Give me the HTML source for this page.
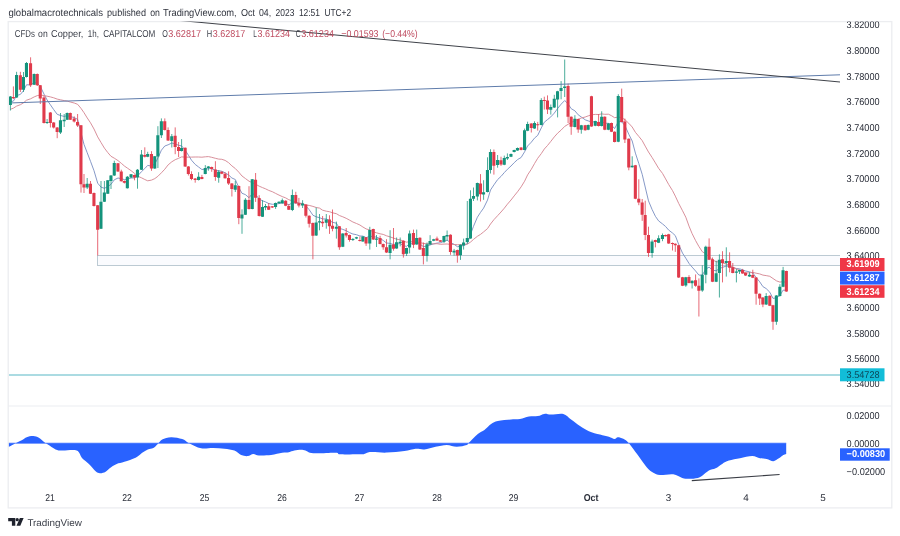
<!DOCTYPE html>
<html lang="en">
<head>
<meta charset="utf-8">
<title>CFDs on Copper, 1h — TradingView</title>
<style>
html,body{margin:0;padding:0;background:#fff;}
body{width:900px;height:536px;overflow:hidden;position:relative;font-family:"Liberation Sans","DejaVu Sans",sans-serif;}
svg{position:absolute;left:0;top:0;display:block;filter:blur(0.35px)}
text{font-family:"Liberation Sans","DejaVu Sans",sans-serif;text-rendering:geometricPrecision;}
.ax{font-size:9.9px;fill:#2a2e39;}
.tm{font-size:9.9px;fill:#2a2e39;text-anchor:middle;}
.bd{font-size:9.9px;fill:#fff;font-weight:bold;}
</style>
</head>
<body>
<svg width="900" height="536" viewBox="0 0 900 536">
  <defs>
    <clipPath id="plot"><rect x="9" y="21.5" width="831" height="384"/></clipPath>
    <clipPath id="axis"><rect x="840" y="21.5" width="51" height="486"/></clipPath>
  </defs>
  <rect x="0" y="0" width="900" height="536" fill="#ffffff"/>
  <!-- header -->
  <text id="hdr" y="15.6" font-size="10.1" fill="#30343e"><tspan x="8.4" textLength="94.6" lengthAdjust="spacingAndGlyphs">globalmacrotechnicals</tspan> <tspan x="107" textLength="39" lengthAdjust="spacingAndGlyphs">published</tspan> <tspan x="150.2" textLength="9.7" lengthAdjust="spacingAndGlyphs">on</tspan> <tspan x="163.0" textLength="73.7" lengthAdjust="spacingAndGlyphs">TradingView.com,</tspan> <tspan x="241.1" textLength="14.0" lengthAdjust="spacingAndGlyphs">Oct</tspan> <tspan x="258.9" textLength="12.2" lengthAdjust="spacingAndGlyphs">04,</tspan> <tspan x="275.6" textLength="18.8" lengthAdjust="spacingAndGlyphs">2023</tspan> <tspan x="298.9" textLength="21.1" lengthAdjust="spacingAndGlyphs">12:51</tspan> <tspan x="324.4" textLength="26.7" lengthAdjust="spacingAndGlyphs">UTC+2</tspan></text>
  <!-- frame -->
  <rect x="8.2" y="21.6" width="883.6" height="486.3" fill="none" stroke="#ecedf0" stroke-width="1.3"/>
  <path d="M8.8 406H891.2" stroke="#ecedf1" stroke-width="1.2"/>

  <!-- support zone -->
  <!-- teal horizontal line -->
  <path d="M9 375H840" stroke="#8fcfd9" stroke-width="1.5"/>

  <g clip-path="url(#plot)">
    <rect x="97.5" y="255.5" width="760" height="10" fill="#fafbfe" stroke="#bccad3" stroke-width="1"/>
    <polyline points="10.4,101.8 13.4,101.1 16.6,95.6 20.4,94.4 23.5,90.7 26.5,84.8 30.6,84.9 34.2,82.6 37.3,83.2 40.3,86.4 44,94.1 47.1,100 50.4,104.8 53.7,109.6 57.2,114.3 60.5,115.5 64.2,116.4 67.2,115.7 70.3,116.5 74.2,117.6 77.6,119.3 81,132.9 84,144.4 87.2,152.7 90.5,161.3 94,170.7 97.7,183.2 101,187.1 104.4,188.3 107.8,186.6 111,184.3 114.3,179.8 118,178 121.3,178.7 124.4,179.6 127.4,179 131.1,178 134.5,177.9 137.5,176.1 141.5,171.6 144.8,168.5 147.7,165.4 151.5,166.1 154.8,164 157.9,158 161.4,150.2 164.8,146 168.1,144.8 171.8,143 175.2,143.9 178.6,145.3 181.6,145.9 185.2,150.2 188.4,155.2 191.5,160.2 195.2,164.4 198.6,167 201.9,169.5 205.3,169.2 208.4,168.6 211.7,168.7 215.4,170.4 218.7,170.7 221.8,171.3 225.1,172.8 228.6,175 231.9,178 235.3,179.5 238.8,187.6 242,193.3 245.4,194.6 249,197.7 252.3,193.8 255.6,194.6 259.2,199.1 262.5,200.8 265.5,201.9 268.7,203.5 272.3,204.3 275.6,204.1 279,203.6 282.3,202.9 285.7,203.5 288.8,204.8 292.4,202.8 295.8,202.9 298.9,203.4 302.6,203.4 305.9,206 309.2,209.7 312.9,215.2 316.2,216.8 319.5,217.7 322.6,218.9 326.3,219 329.5,220.6 332.5,222.3 336.4,223.2 339.4,228.3 342.8,229.4 346.2,230.7 349.5,232.6 352.9,234 356.5,234.7 359.9,236 362.9,236.1 366.1,237.7 369.8,236.1 373.3,236.8 376.5,237.1 380.1,238.6 383.2,240.4 386.5,243 390.1,243.4 393.5,244.5 396.6,244 400.2,243.5 403.4,245.8 406.6,246.3 409.6,243.6 413.5,243.9 416.7,242.6 419.9,244.1 423.4,246.6 427,246.1 430.1,245 433.7,243.8 437,243.1 440.4,242.8 444,241.4 447.1,240.1 450.5,242.6 454.1,244.3 457.4,246.7 460.5,246.3 463.6,245.5 467.3,243.9 470.5,234.4 473.5,226.3 477.4,217.2 480.5,212.4 483.6,208.1 487.5,200.1 490.5,190 493.9,184.9 497.6,179.6 501,176.4 504.3,172.6 507.4,169.3 511,166 514.2,162.7 517.5,159.6 521.1,157.5 524.6,151.8 527.6,146 531.3,142.2 534.5,138.1 537.7,135.4 541.3,127.9 544.3,122.2 547.5,119.6 550.8,116.9 554.3,113.1 557.6,108.5 561.1,104.2 564.7,100.5 568.1,103.9 571.2,108.7 574.9,110.8 578.2,114.8 581.3,117 585.2,119.8 588.2,120.9 591.5,122 595.3,121.8 598.6,122.7 601.7,121.5 604.8,123.2 608.4,123.3 611.5,125 614.6,128.6 618.3,121.7 621.7,121.8 624.9,125.5 628.8,134.3 632.2,141 635.4,153.1 638.8,163.5 642.2,174.3 645.2,187 648.5,200.9 652.1,209.5 655.4,216.3 658.6,220.9 662.5,223.9 665.6,226.5 668.7,230.1 672.5,233 675.3,235.6 678.7,244.4 682.5,253.1 685.8,258.2 689,263.4 692.1,267.1 695.6,271 698.9,275.1 702.3,275.1 705.8,269.1 709.1,267.1 712.5,270.2 716.2,270.8 719.4,268.5 722.5,267.4 726.3,266 729.6,266.4 732.8,267.7 736.4,268.5 739.5,268.8 742.6,269.8 745.6,271 749.5,271.8 752.8,273 756.1,277.4 759.7,281.8 762.9,286.6 766.2,288.6 769.8,292.2 773,298.4 776.4,297.8 779.9,295.5 783.1,290.1 786.4,290.4" fill="none" stroke="#7f93c4" stroke-width="1" opacity="0.95"/><polyline points="10.4,109.3 13.4,108.2 16.6,106.1 20.4,104.7 23.5,102.8 26.5,100.2 30.6,98.8 34.2,96.9 37.3,95.6 40.3,95 44,95.6 47.1,96.2 50.4,96.9 53.7,97.8 57.2,99.1 60.5,99.8 64.2,100.6 67.2,101.1 70.3,102 74.2,103 77.6,104.3 81,108.4 84,112.7 87.2,117.9 90.5,122.8 94,129 97.7,136.9 101,142.5 104.4,148.1 107.8,152.6 111,156.3 114.3,158.2 118,160.6 121.3,163.3 124.4,166 127.4,168.1 131.1,170.7 134.5,173.4 137.5,176.1 141.5,177.8 144.8,179.5 147.7,180.8 151.5,180.1 154.8,178.6 157.9,176.3 161.4,172.8 164.8,169.2 168.1,164.9 171.8,161.8 175.2,159.7 178.6,158.3 181.6,156.9 185.2,157.1 188.4,157.2 191.5,157.1 195.2,157 198.6,157 201.9,157.2 205.3,156.8 208.4,156.6 211.7,157.3 215.4,158.3 218.7,159.1 221.8,159.3 225.1,160.4 228.6,162.7 231.9,165.9 235.3,168.5 238.8,172.2 242,176 245.4,178.5 249,181.2 252.3,182.7 255.6,184.2 259.2,186.2 262.5,187.6 265.5,188.8 268.7,190.4 272.3,191.7 275.6,193.4 279,195.1 282.3,196.6 285.7,197.9 288.8,199.7 292.4,200.8 295.8,201.9 298.9,203 302.6,203.7 305.9,205.1 309.2,205.4 312.9,206.4 316.2,207.5 319.5,208.1 322.6,210.2 326.3,211.2 329.5,211.7 332.5,212.8 336.4,213.7 339.4,215.5 342.8,216.8 346.2,218.3 349.5,220.1 352.9,222 356.5,223.5 359.9,225 362.9,227 366.1,228.9 369.8,230 373.3,231.8 376.5,232.8 380.1,233.8 383.2,234.4 386.5,235.8 390.1,236.9 393.5,238.1 396.6,239.2 400.2,239.9 403.4,241.1 406.6,242.2 409.6,241.5 413.5,242 416.7,242.2 419.9,242.6 423.4,243.4 427,243.8 430.1,243.8 433.7,243.9 437,243.7 440.4,244.3 444,244.1 447.1,244 450.5,244.4 454.1,244.5 457.4,244.7 460.5,244.7 463.6,244.4 467.3,244.2 470.5,242.1 473.5,239.4 477.4,236.3 480.5,234.4 483.6,231.9 487.5,228.6 490.5,224 493.9,219.7 497.6,215.7 501,212 504.3,208.2 507.4,204.2 511,200 514.2,195.9 517.5,191.8 521.1,186.9 524.6,181.2 527.6,174.9 531.3,169.3 534.5,163.6 537.7,158.3 541.3,153.6 544.3,149 547.5,145.5 550.8,141.4 554.3,136.9 557.6,133.2 561.1,130.1 564.7,126.4 568.1,124.3 571.2,122.5 574.9,120.6 578.2,119.3 581.3,118 585.2,117 588.2,115.9 591.5,114.8 595.3,114.4 598.6,114.5 601.7,113.9 604.8,114.3 608.4,114.2 611.5,115.7 614.6,117.7 618.3,117 621.7,117.7 624.9,119.6 628.8,123.3 632.2,127 635.4,132.3 638.8,136.4 642.2,140.6 645.2,146.1 648.5,152 652.1,157.5 655.4,162.9 658.6,168.3 662.5,173.4 665.6,178.9 668.7,184.5 672.5,190.6 675.3,196.1 678.7,203.4 682.5,210.7 685.8,217.2 689,226.1 692.1,233.6 695.6,240.6 698.9,246.5 702.3,251.7 705.8,253.9 709.1,256.7 712.5,259.9 716.2,261.7 719.4,262 722.5,263 726.3,263.9 729.6,265.3 732.8,267.2 736.4,268.8 739.5,270.1 742.6,271.5 745.6,272.9 749.5,272.8 752.8,272.4 756.1,273.2 759.7,273.9 762.9,275.1 766.2,275.6 769.8,276.3 773,278.5 776.4,280.8 779.9,282.1 783.1,281.6 786.4,282.5" fill="none" stroke="#d68a96" stroke-width="1" opacity="0.95"/>
    <path d="M10.4 96V110.5M16.6 71.8V98M23.5 72V92M26.5 62V77.5M34.2 73.5V85M47.1 119V124M60.5 113V134M64.2 114V127M67.2 112.5V120M87.2 178V189M101 181V229M104.4 181V202M107.8 180V194M111 175V189M114.3 160.7V176M127.4 176V188.5M131.1 174V178M137.5 169V188.7M141.5 150V170M147.7 151.8V157.2M154.8 156V169M157.9 126.2V168M161.4 118.4V138M171.8 134V147.5M181.6 139.1V151.5M198.6 172.2V180.5M205.3 165.1V174.3M208.4 166V170.7M218.7 170.2V182.7M235.3 180.8V192M242 209.3V233.8M245.4 198.1V215M252.3 179V209.3M262.5 200.2V217M265.5 204V210.2M275.6 202.5V208.9M279 201.3V203.7M282.3 198.5V203.7M292.4 189.5V211.1M302.6 200.2V208M316.2 207.6V236M319.5 214V230.3M326.3 214V228.7M336.4 221.6V238.6M342.8 233.2V247.1M352.9 238V241M356.5 236.8V239.1M362.9 236.2V241.8M369.8 226.8V249.6M376.5 235V247M390.1 230.2V259.3M396.6 237.5V248.8M400.2 237.5V246.4M406.6 247.7V256M409.6 230.5V253.4M416.7 229.6V244.8M427 242.5V261.6M430.1 235.2V244.8M433.7 238.8V241.2M444 235.7V243M447.1 230.5V240.8M454.1 248.9V255.6M460.5 244.4V259.9M463.6 238.6V249.6M467.3 201V243.6M470.5 190.3V238.8M473.5 187.5V201M477.4 182.6V200.4M483.6 180.2V199.8M487.5 157.3V192.4M490.5 149.3V173.5M497.6 155V167.7M504.3 155.6V165.2M507.4 153.4V160M511 153.5V157.1M514.2 149.7V152.4M517.5 147.5V150.8M524.6 128.6V150.3M527.6 121.7V131.2M534.5 121.3V128.8M541.3 98.2V125.4M550.8 104.5V114.6M554.3 94.8V108M557.6 90.8V117.4M561.1 81.1V99.3M564.7 59.5V97M574.9 115.2V127.4M581.3 124.9V133.7M588.2 124.5V130.2M595.3 120.7V126.2M601.7 111.3V126.5M608.4 123V130.2M618.3 94.2V142.2M632.2 156.3V167.6M652.1 239.6V257.7M658.6 235.3V243.1M662.5 233.5V241.2M685.8 276.9V286.8M692.1 280.4V288.5M702.3 265.3V291.8M705.8 245.7V283.3M716.2 260.8V282.1M719.4 254.3V297.5M726.3 247.3V276.6M736.4 268.9V282.4M739.5 269.6V274M749.5 272.2V276.8M766.2 293.1V305M776.4 295.1V324.8M779.9 284.2V296.5M783.1 266.9V287.2" stroke="#14937c" stroke-width="0.9" fill="none" opacity="0.85"/><path d="M13.4 86.4V99M20.4 71.8V92M30.6 57.3V87M37.3 73.5V86M40.3 85V104M44 96V123.5M50.4 112V127.5M53.7 122V128.5M57.2 127V138.2M70.3 112.5V120M74.2 116.3V122.5M77.6 114V127M81 125V192.6M84 174V193M90.5 181V194M94 192.5V206.5M97.7 205V255.5M118 163V172M121.3 169.7V181.5M124.4 180.5V183.5M134.5 174.5V180.3M144.8 147.3V157.5M151.5 151.2V170.8M164.8 118.4V130.5M168.1 127.4V141M175.2 127.4V154.2M178.6 142V157M185.2 147.5V167M188.4 166V175.5M191.5 171.3V180.2M195.2 178V182.7M201.9 174.9V179.3M211.7 166.6V171.8M215.4 161.2V180.8M221.8 171.3V174.2M225.1 172.4V178.6M228.6 171.3V185M231.9 183V196.5M238.8 185.5V224.2M249 186.2V209.5M255.6 173V201.9M259.2 195.2V216.5M268.7 203V210M272.3 206V208M285.7 200.2V206.2M288.8 204V210M295.8 191.8V203.8M298.9 197.9V207.4M305.9 204.2V217.5M309.2 215.3V227.5M312.9 222.5V259.3M322.6 216V226.9M329.5 215.3V233.9M332.5 209.5V231.3M339.4 226V249.8M346.2 228V237.5M349.5 234.6V241.7M359.9 236.6V241.5M366.1 237V245.9M373.3 228.7V240M380.1 235.8V244.4M383.2 243.6V249.8M386.5 239.2V253M393.5 228V250.7M403.4 240.4V257.6M413.5 229.6V248.1M419.9 237.3V250M423.4 242.5V264.4M437 236.6V241M440.4 240V242.1M450.5 234.3V254.8M457.4 249.6V262.7M480.5 174.1V201.5M493.9 149.5V174.6M501 156.7V165.9M521.1 147.2V150.3M531.3 123.2V132.5M537.7 121.9V130.6M544.3 96.7V109.6M547.5 95.4V114M568.1 83.6V123M571.2 116.4V134.8M578.2 118.7V132.8M585.2 124.9V130.7M591.5 95.8V126.8M598.6 114.1V126.5M604.8 116.3V130.2M611.5 122.6V132.1M614.6 131.3V142.4M621.7 88.6V122.3M624.9 118.6V143M628.8 138.4V170.3M635.4 164.9V199.2M638.8 179.3V205.2M642.2 199V220.9M645.2 200.7V240.1M648.5 226.7V256.9M655.4 239.7V247.4M665.6 234.5V236.6M668.7 233.8V243.9M672.5 242.5V250.5M675.3 243.4V251.9M678.7 244.8V278M682.5 276.9V286.1M689 275.2V283.4M695.6 274.4V286.8M698.9 278.4V316.5M709.1 238.4V260.1M712.5 257.5V282.1M722.5 251.2V282.4M729.6 252.3V272.3M732.8 263V273.3M742.6 268.9V273.8M745.6 272.4V276M752.8 269.7V278.1M756.1 277V304.7M759.7 293.4V305M762.9 297.1V307.2M769.8 295.3V306.1M773 304.8V329.8M786.4 270.7V291.9" stroke="#e03a4b" stroke-width="0.9" fill="none" opacity="0.85"/><path d="M8.8 96.5h3.1V104.9h-3.1zM15 74.9h3.1V97.6h-3.1zM21.9 76.9h3.1V89.8h-3.1zM24.9 62.9h3.1V76.9h-3.1zM32.6 74h3.1V84.7h-3.1zM45.5 121.9h3.1V123h-3.1zM58.9 120.2h3.1V132.5h-3.1zM62.6 119.7h3.1V121.3h-3.1zM65.6 113h3.1V119.7h-3.1zM85.6 183.7h3.1V187.6h-3.1zM99.4 201.8h3.1V228.7h-3.1zM102.8 192.6h3.1V201.8h-3.1zM106.2 180.3h3.1V193.7h-3.1zM109.4 175.6h3.1V181h-3.1zM112.7 163h3.1V175.6h-3.1zM125.8 176.7h3.1V188.2h-3.1zM129.5 174.2h3.1V177.5h-3.1zM135.9 169.7h3.1V177.5h-3.1zM139.9 154.6h3.1V169.7h-3.1zM146.1 154h3.1V156.8h-3.1zM153.2 156.2h3.1V168.6h-3.1zM156.3 135.2h3.1V156.5h-3.1zM159.8 121.2h3.1V135.2h-3.1zM170.2 136.3h3.1V141.1h-3.1zM180 148h3.1V150.9h-3.1zM197 176.7h3.1V180h-3.1zM203.7 167.9h3.1V173.9h-3.1zM206.8 166.6h3.1V168.1h-3.1zM217.1 171.8h3.1V177.8h-3.1zM233.7 185.2h3.1V189.8h-3.1zM240.4 214.5h3.1V218.6h-3.1zM243.8 199.7h3.1V214.7h-3.1zM250.7 179.3h3.1V208.9h-3.1zM260.9 206.9h3.1V216.7h-3.1zM263.9 206h3.1V207.4h-3.1zM274 203h3.1V206.9h-3.1zM277.4 201.8h3.1V203.2h-3.1zM280.7 200.2h3.1V203.2h-3.1zM290.8 195.1h3.1V210h-3.1zM301 203.5h3.1V205.5h-3.1zM314.6 222.6h3.1V235.5h-3.1zM317.9 221.2h3.1V222.5h-3.1zM324.7 219.6h3.1V222.7h-3.1zM334.8 226.8h3.1V228.7h-3.1zM341.2 233.6h3.1V246.7h-3.1zM351.3 238.9h3.1V239.9h-3.1zM354.9 237.3h3.1V238.6h-3.1zM361.3 236.6h3.1V241.4h-3.1zM368.2 229.9h3.1V243.6h-3.1zM374.9 238.4h3.1V239.7h-3.1zM388.5 244.8h3.1V252.9h-3.1zM395 242.2h3.1V248.4h-3.1zM398.6 241.7h3.1V243h-3.1zM405 248.1h3.1V253.7h-3.1zM408 233.6h3.1V247.6h-3.1zM415.1 238h3.1V244.4h-3.1zM425.4 244.2h3.1V256h-3.1zM428.5 241.1h3.1V244.4h-3.1zM432.1 239.2h3.1V240.8h-3.1zM442.4 236.1h3.1V241.7h-3.1zM445.5 235h3.1V236.6h-3.1zM452.5 250.7h3.1V252.6h-3.1zM458.9 244.8h3.1V255.2h-3.1zM462 242.5h3.1V245.5h-3.1zM465.7 238h3.1V242h-3.1zM468.9 198.7h3.1V238.4h-3.1zM471.9 196.1h3.1V198.7h-3.1zM475.8 183h3.1V196.5h-3.1zM482 192.3h3.1V194.6h-3.1zM485.9 169.9h3.1V192h-3.1zM488.9 152h3.1V169.9h-3.1zM496 159.9h3.1V165.1h-3.1zM502.7 158.1h3.1V164.8h-3.1zM505.8 156.9h3.1V158.4h-3.1zM509.4 153.9h3.1V156.7h-3.1zM512.6 150.1h3.1V152h-3.1zM515.9 147.9h3.1V150.4h-3.1zM523 130.3h3.1V149.9h-3.1zM526 124.1h3.1V130.8h-3.1zM532.9 123h3.1V128.4h-3.1zM539.7 99.9h3.1V125h-3.1zM549.2 107.1h3.1V109.8h-3.1zM552.7 98.8h3.1V107.5h-3.1zM556 91.2h3.1V99.4h-3.1zM559.5 88.1h3.1V90.9h-3.1zM563.1 86.4h3.1V88.1h-3.1zM573.3 118.7h3.1V127h-3.1zM579.7 125.3h3.1V129.8h-3.1zM586.6 124.9h3.1V129.8h-3.1zM593.7 121.1h3.1V125.8h-3.1zM600.1 116.7h3.1V126.1h-3.1zM606.8 123.4h3.1V129.8h-3.1zM616.7 96h3.1V141.8h-3.1zM630.6 165.8h3.1V167.2h-3.1zM650.5 241.6h3.1V253h-3.1zM657 238.2h3.1V242.7h-3.1zM660.9 234.9h3.1V239h-3.1zM684.2 277.3h3.1V285.5h-3.1zM690.5 280.8h3.1V283.2h-3.1zM700.7 274.7h3.1V290.4h-3.1zM704.2 246.8h3.1V274.7h-3.1zM714.6 273.3h3.1V281.7h-3.1zM717.8 259.8h3.1V272.9h-3.1zM724.7 261h3.1V262.9h-3.1zM734.8 271.5h3.1V272.8h-3.1zM737.9 270h3.1V271.4h-3.1zM747.9 274.7h3.1V276.4h-3.1zM764.6 296.1h3.1V304.6h-3.1zM774.8 295.5h3.1V321.7h-3.1zM778.3 286.7h3.1V296.1h-3.1zM781.5 270.2h3.1V286.8h-3.1z" fill="#14937c"/><path d="M11.8 97h3.1V98.2h-3.1zM18.8 75.2h3.1V89.8h-3.1zM29 63.2h3.1V85.3h-3.1zM35.7 74h3.1V85.3h-3.1zM38.7 85.3h3.1V98.5h-3.1zM42.4 97.5h3.1V123h-3.1zM48.8 112.4h3.1V123h-3.1zM52.1 122.5h3.1V127.5h-3.1zM55.6 127.5h3.1V132h-3.1zM68.7 113h3.1V119.7h-3.1zM72.6 118.5h3.1V121.4h-3.1zM76 122h3.1V125.6h-3.1zM79.4 125.3h3.1V184.2h-3.1zM82.4 184.2h3.1V187.6h-3.1zM88.9 183.7h3.1V193.7h-3.1zM92.4 193h3.1V206h-3.1zM96.1 205.2h3.1V229.8h-3.1zM116.4 163.3h3.1V171.4h-3.1zM119.7 171.4h3.1V181.2h-3.1zM122.8 180.9h3.1V182.8h-3.1zM132.9 175h3.1V177.5h-3.1zM143.2 155h3.1V156.8h-3.1zM149.9 154h3.1V168.6h-3.1zM163.2 121.2h3.1V130h-3.1zM166.5 130h3.1V140.5h-3.1zM173.6 135.8h3.1V147h-3.1zM177 147h3.1V150.9h-3.1zM183.6 147.8h3.1V166.5h-3.1zM186.8 166.5h3.1V174h-3.1zM189.9 174h3.1V178.9h-3.1zM193.6 178.6h3.1V180h-3.1zM200.3 176.9h3.1V178.9h-3.1zM210.1 167.1h3.1V169h-3.1zM213.8 169.6h3.1V176.9h-3.1zM220.2 171.8h3.1V173.7h-3.1zM223.5 173.7h3.1V178.2h-3.1zM227 178h3.1V183.4h-3.1zM230.3 183.4h3.1V189h-3.1zM237.2 186h3.1V218.1h-3.1zM247.4 200h3.1V209h-3.1zM254 179.7h3.1V197.8h-3.1zM257.6 197.9h3.1V216h-3.1zM267.1 206.3h3.1V209.7h-3.1zM270.7 206.3h3.1V207.4h-3.1zM284.1 200.7h3.1V205.8h-3.1zM287.2 206h3.1V209.7h-3.1zM294.2 195.1h3.1V203.3h-3.1zM297.3 203.3h3.1V205.5h-3.1zM304.3 204.6h3.1V215.7h-3.1zM307.6 215.7h3.1V223.7h-3.1zM311.3 223h3.1V235.8h-3.1zM321 221.7h3.1V223.3h-3.1zM327.9 219.6h3.1V226.3h-3.1zM330.9 225.7h3.1V228.7h-3.1zM337.8 226.3h3.1V247.3h-3.1zM344.6 233h3.1V235.5h-3.1zM347.9 235h3.1V239.9h-3.1zM358.3 239.9h3.1V241.1h-3.1zM364.5 237.3h3.1V243.6h-3.1zM371.7 229.1h3.1V239.5h-3.1zM378.5 238h3.1V244h-3.1zM381.6 244h3.1V247.3h-3.1zM384.9 247.3h3.1V252.6h-3.1zM391.9 244.4h3.1V248.7h-3.1zM401.8 240.8h3.1V254.3h-3.1zM411.9 233h3.1V244.8h-3.1zM418.3 237.7h3.1V249.6h-3.1zM421.8 248.1h3.1V256h-3.1zM435.4 238.4h3.1V240.6h-3.1zM438.8 240.3h3.1V241.7h-3.1zM448.9 234.7h3.1V252h-3.1zM455.8 250h3.1V255.6h-3.1zM478.9 183.6h3.1V194.2h-3.1zM492.3 152h3.1V165.7h-3.1zM499.4 160.3h3.1V164.6h-3.1zM519.5 147.6h3.1V149.9h-3.1zM529.7 123.6h3.1V128h-3.1zM536.1 124.2h3.1V125.2h-3.1zM542.7 99.9h3.1V100.9h-3.1zM545.9 100.6h3.1V109.6h-3.1zM566.5 86h3.1V116.8h-3.1zM569.6 116.8h3.1V126.8h-3.1zM576.6 119.1h3.1V129.5h-3.1zM583.6 125.3h3.1V130.3h-3.1zM589.9 96.2h3.1V126.4h-3.1zM597 121.9h3.1V126.1h-3.1zM603.2 116.7h3.1V129.8h-3.1zM609.9 123h3.1V131.7h-3.1zM613 131.7h3.1V142h-3.1zM620.1 96.9h3.1V121.9h-3.1zM623.3 121.6h3.1V139.5h-3.1zM627.2 138.8h3.1V167.5h-3.1zM633.8 165.3h3.1V198.8h-3.1zM637.2 198.8h3.1V202.4h-3.1zM640.6 202.4h3.1V214.7h-3.1zM643.6 214.9h3.1V234.9h-3.1zM646.9 235h3.1V253h-3.1zM653.8 240.1h3.1V242h-3.1zM664 234.9h3.1V236.2h-3.1zM667.1 234.2h3.1V243.5h-3.1zM670.9 242.9h3.1V244h-3.1zM673.7 243.8h3.1V245.2h-3.1zM677.1 245.2h3.1V277.6h-3.1zM680.9 277.3h3.1V285.7h-3.1zM687.4 277h3.1V283h-3.1zM694 280.3h3.1V285.7h-3.1zM697.3 285.7h3.1V290.7h-3.1zM707.5 246.8h3.1V259.7h-3.1zM710.9 259.2h3.1V281.7h-3.1zM720.9 259.2h3.1V263h-3.1zM728 261h3.1V267.7h-3.1zM731.2 267.2h3.1V272.9h-3.1zM741 270h3.1V273.4h-3.1zM744 272.8h3.1V275.6h-3.1zM751.2 275.1h3.1V277.7h-3.1zM754.5 277.4h3.1V293.8h-3.1zM758.1 293.8h3.1V298.4h-3.1zM761.3 297.5h3.1V304.6h-3.1zM768.2 295.7h3.1V305.7h-3.1zM771.4 305.2h3.1V321.7h-3.1zM784.8 271.1h3.1V291.5h-3.1z" fill="#e03a4b"/>
    <!-- trend lines -->
    <path d="M12 102.9L840 74.8" stroke="#5f7cab" stroke-width="1" fill="none"/>
    <path d="M170 19.57L840 82" stroke="#3f4249" stroke-width="1" fill="none"/>
  </g>

  <!-- legend -->
    <text id="lg" y="37.2" font-size="10" fill="#3a3e48"><tspan x="14.8" textLength="20.0" lengthAdjust="spacingAndGlyphs">CFDs</tspan> <tspan x="38.1" textLength="9.6" lengthAdjust="spacingAndGlyphs">on</tspan> <tspan x="51.1" textLength="32.2" lengthAdjust="spacingAndGlyphs">Copper,</tspan> <tspan x="87.8" textLength="11.1" lengthAdjust="spacingAndGlyphs">1h,</tspan> <tspan x="103.2" textLength="52.2" lengthAdjust="spacingAndGlyphs">CAPITALCOM</tspan> <tspan x="162.2" textLength="5.6" lengthAdjust="spacingAndGlyphs">O</tspan><tspan x="168.2" textLength="32.9" lengthAdjust="spacingAndGlyphs" fill="#bf4c60">3.62817</tspan> <tspan x="206.8" textLength="5.4" lengthAdjust="spacingAndGlyphs">H</tspan><tspan x="212.7" textLength="32.5" lengthAdjust="spacingAndGlyphs" fill="#bf4c60">3.62817</tspan> <tspan x="253.3" textLength="3.6" lengthAdjust="spacingAndGlyphs">L</tspan><tspan x="257.5" textLength="32.5" lengthAdjust="spacingAndGlyphs" fill="#bf4c60">3.61234</tspan> <tspan x="295.8" textLength="4.9" lengthAdjust="spacingAndGlyphs">C</tspan><tspan x="301.2" textLength="32.8" lengthAdjust="spacingAndGlyphs" fill="#bf4c60">3.61234</tspan> <tspan x="341.3" textLength="37.2" lengthAdjust="spacingAndGlyphs" fill="#bf4c60">−0.01593</tspan> <tspan x="382.2" textLength="35.4" lengthAdjust="spacingAndGlyphs" fill="#bf4c60">(−0.44%)</tspan></text>

  <!-- oscillator -->
  <path d="M8.9 443.2L8.9 446.8C10 446.2 13.4 444.3 15.6 443.2C17.8 442.1 20.3 441.1 22.2 440.1C24.1 439.1 24.9 437.9 26.7 437.2C28.5 436.5 31.3 436 33.3 436.1C35.3 436.2 37 436.7 38.9 437.7C40.8 438.7 42.9 441.1 44.4 442.3C45.9 443.5 45.9 443.4 47.8 444.6C49.7 445.8 53.2 448.4 55.6 449.4C58 450.4 58.7 450.4 62.2 450.6C65.7 450.8 73.4 449.3 76.7 450.6C80 451.9 80.2 456.1 82.2 458.3C84.2 460.5 86.7 461.8 88.9 463.9C91.1 466 93.8 469.6 95.6 471.2C97.4 472.8 98.3 473.1 100 473.2C101.7 473.3 103.8 472.7 105.6 471.7C107.4 470.7 109.2 468.5 111.1 467.2C112.9 465.9 114.5 464.8 116.7 463.9C118.9 463 121.2 462.7 124.4 461.7C127.6 460.7 132.6 459.2 135.6 457.7C138.6 456.2 140.2 454.2 142.2 452.8C144.2 451.4 146 450.2 147.8 449.4C149.7 448.6 151.6 448.8 153.3 447.9C155 447 156.3 445.3 157.8 443.9C159.3 442.5 160 440.5 162.2 439.4C164.4 438.3 167.8 437.3 171.1 437.2C174.4 437.1 179.2 438 182.2 439C185.2 440 185.8 441.6 188.9 443.2C192.1 444.8 197 447.5 201.1 448.3C205.2 449.1 209.4 447.8 213.3 447.9C217.2 448 220.9 448.4 224.4 448.8C227.9 449.2 231.6 449.6 234.4 450.6C237.2 451.6 238.9 454.1 241.1 455C243.3 455.9 245.8 456.3 247.8 456.1C249.8 455.9 251.5 454 253.3 453.9C255.2 453.8 255.9 455.2 258.9 455.4C261.9 455.6 267.2 455.4 271.1 455C275 454.6 279.2 453.2 282.2 452.8C285.2 452.4 286.9 452.7 288.9 452.3C290.9 451.9 292 451 294.4 450.6C296.8 450.2 300.1 449.5 303.3 449.9C306.5 450.3 307.9 452.7 313.3 453.2C318.7 453.7 331.2 452.6 335.6 452.8C340.1 453 336.3 454.1 340 454.3C343.7 454.6 353.7 454.4 357.8 454.3C361.9 454.2 362.2 454.3 364.4 453.9C366.6 453.5 367.4 452.3 371.1 452.1C374.8 451.9 381.1 452.8 386.7 452.6C392.2 452.4 399.6 451.6 404.4 451C409.2 450.4 412.3 449.1 415.6 448.8C418.9 448.5 421.1 449.7 424.4 449.4C427.7 449.1 431.9 447.5 435.6 446.8C439.3 446.1 443.2 445 446.7 445C450.2 445 453.4 446.8 456.7 446.8C460 446.8 464.7 445.7 466.7 445C468.7 444.3 467 444.7 468.9 442.8C470.8 440.9 475.2 436 477.8 433.9C480.4 431.8 482.2 431.6 484.4 429.9C486.6 428.2 488.9 425.4 491.1 423.9C493.3 422.4 494.5 421.8 497.8 421C501.1 420.2 507.4 419.7 511.1 419.4C514.8 419.1 517 419.5 520 419C523 418.5 525.9 417.1 528.9 416.6C531.9 416.1 535.2 416.6 537.8 416.1C540.4 415.7 542.2 414.1 544.4 413.9C546.6 413.6 548 414.6 551.1 414.6C554.2 414.6 560 413.1 563.3 413.9C566.6 414.7 568.3 417.4 571.1 419.4C573.9 421.4 577 424.1 580 426.1C583 428.1 585.6 429.8 588.9 431.2C592.2 432.6 596.7 433.7 600 434.6C603.3 435.5 606.5 436.1 608.9 436.8C611.3 437.5 612.9 438.9 614.4 439C615.9 439.1 616.3 437.2 617.8 437.2C619.3 437.2 621.4 437.8 623.3 438.8C625.1 439.8 626.5 440.5 628.9 443.2C631.3 445.9 634.8 451 637.8 455C640.8 459 644.1 464.2 646.7 467.2C649.3 470.2 651.1 471.5 653.3 472.8C655.5 474.1 656.7 474.8 660 475C663.3 475.2 669.6 473.8 673.3 474.3C677 474.8 679.6 477.1 682.2 477.9C684.8 478.6 686.3 478.8 688.9 478.8C691.5 478.8 695.6 478.4 697.8 477.9C700 477.4 700.4 476.9 702.2 475.7C704.1 474.5 706.7 471.8 708.9 470.6C711.1 469.4 713.4 469.4 715.6 468.3C717.8 467.2 720 465.2 722.2 463.9C724.4 462.6 725.9 461.5 728.9 460.6C731.9 459.7 736.1 459.1 740 458.3C743.9 457.6 748.9 456.1 752.2 456.1C755.5 456.1 757.6 457.8 760 458.3C762.4 458.8 764.5 458.5 766.7 459C768.9 459.5 771.3 461.3 773.3 461.2C775.3 461.1 777.2 459.3 778.9 458.3C780.6 457.3 782.1 455.7 783.3 455C784.5 454.3 785.7 454.1 786.2 453.9L786.2 443.2Z" fill="#2962ff"/><path d="M8.9 443.2H786.2" stroke="#2962ff" stroke-width="0.7"/>
  <path d="M691.8 480.6L779.6 474.5" stroke="#3a3d45" stroke-width="1.1"/>

  <!-- price axis -->
  <g clip-path="url(#axis)" class="ax">
    <text x="846.6" y="28.0" textLength="33" lengthAdjust="spacingAndGlyphs">3.82000</text>
    <text x="846.6" y="53.7" textLength="33" lengthAdjust="spacingAndGlyphs">3.80000</text>
    <text x="846.6" y="79.5" textLength="33" lengthAdjust="spacingAndGlyphs">3.78000</text>
    <text x="846.6" y="105.2" textLength="33" lengthAdjust="spacingAndGlyphs">3.76000</text>
    <text x="846.6" y="130.7" textLength="33" lengthAdjust="spacingAndGlyphs">3.74000</text>
    <text x="846.6" y="156.6" textLength="33" lengthAdjust="spacingAndGlyphs">3.72000</text>
    <text x="846.6" y="182.3" textLength="33" lengthAdjust="spacingAndGlyphs">3.70000</text>
    <text x="846.6" y="208.0" textLength="33" lengthAdjust="spacingAndGlyphs">3.68000</text>
    <text x="846.6" y="233.7" textLength="33" lengthAdjust="spacingAndGlyphs">3.66000</text>
    <text x="846.6" y="259.4" textLength="33" lengthAdjust="spacingAndGlyphs">3.64000</text>
    <text x="846.6" y="310.8" textLength="33" lengthAdjust="spacingAndGlyphs">3.60000</text>
    <text x="846.6" y="336.5" textLength="33" lengthAdjust="spacingAndGlyphs">3.58000</text>
    <text x="846.6" y="362.2" textLength="33" lengthAdjust="spacingAndGlyphs">3.56000</text>
    <text x="846.6" y="387.2" textLength="33" lengthAdjust="spacingAndGlyphs">3.54000</text>
    <text x="846.6" y="419.0" textLength="33" lengthAdjust="spacingAndGlyphs">0.02000</text>
    <text x="846.6" y="446.8" textLength="33" lengthAdjust="spacingAndGlyphs">0.00000</text>
    <text x="846.6" y="474.6" textLength="38.6" lengthAdjust="spacingAndGlyphs">−0.02000</text>
  </g>
  <!-- badges -->
  <rect x="840" y="258" width="44.5" height="13" fill="#ef3747"/>
  <rect x="840" y="271.6" width="44.5" height="13" fill="#2962ff"/>
  <rect x="840" y="285.2" width="44.5" height="12.6" fill="#ef3747"/>
  <text class="bd" x="846.6" y="267.2" textLength="33" lengthAdjust="spacingAndGlyphs">3.61909</text>
  <text class="bd" x="846.6" y="281.3" textLength="33" lengthAdjust="spacingAndGlyphs">3.61287</text>
  <text class="bd" x="846.6" y="294.6" textLength="33" lengthAdjust="spacingAndGlyphs">3.61234</text>
  <rect x="840" y="368.3" width="44.5" height="13" fill="#12bdd8"/>
  <text x="846.6" y="377.7" font-size="9.9" fill="#0b4a5c" textLength="33" lengthAdjust="spacingAndGlyphs">3.54728</text>
  <rect x="840" y="448.3" width="49.7" height="12.4" fill="#2962ff"/>
  <text class="bd" x="846.6" y="457.3" textLength="38.6" lengthAdjust="spacingAndGlyphs">−0.00830</text>

  <!-- time axis -->
  <g class="tm">
    <text x="50" y="500.8" textLength="9.6" lengthAdjust="spacingAndGlyphs">21</text>
    <text x="127" y="500.8" textLength="9.6" lengthAdjust="spacingAndGlyphs">22</text>
    <text x="204.5" y="500.8" textLength="9.6" lengthAdjust="spacingAndGlyphs">25</text>
    <text x="282" y="500.8" textLength="9.6" lengthAdjust="spacingAndGlyphs">26</text>
    <text x="359.5" y="500.8" textLength="9.6" lengthAdjust="spacingAndGlyphs">27</text>
    <text x="437" y="500.8" textLength="9.6" lengthAdjust="spacingAndGlyphs">28</text>
    <text x="513.5" y="500.8" textLength="9.6" lengthAdjust="spacingAndGlyphs">29</text>
    <text x="591.1" y="500.8" font-weight="bold" textLength="14.8" lengthAdjust="spacingAndGlyphs">Oct</text>
    <text x="668.5" y="500.8">3</text>
    <text x="746" y="500.8">4</text>
    <text x="823" y="500.8">5</text>
  </g>

  <!-- TradingView logo -->
  <g fill="#1e222d">
    <path d="M8.2 518h7.1v7.8h-3.4v-4.5H8.2z"/>
    <circle cx="17.2" cy="519.7" r="1.65"/>
    <path d="M19.9 518h3.7l-3.3 7.8h-3.8z"/>
  </g>
  <text x="27.4" y="525.6" font-size="9.7" fill="#3a3e48" textLength="54.4" lengthAdjust="spacingAndGlyphs">TradingView</text>
</svg>
</body>
</html>
